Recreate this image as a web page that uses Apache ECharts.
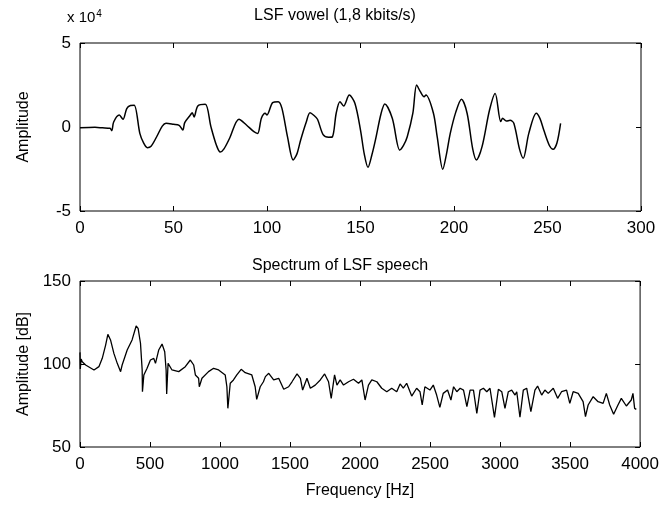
<!DOCTYPE html>
<html>
<head>
<meta charset="utf-8">
<script src="https://cdn.jsdelivr.net/npm/echarts@6/dist/echarts.min.js"></script>
<style>
  html, body { margin: 0; padding: 0; background: #fff; }
  #chart { width: 662px; height: 505px; }
</style>
</head>
<body>
<div id="chart"></div>
<script>
// top plot: LSF vowel, sample index vs amplitude (units of 10^4)
const vowelSample = [0, 8, 12, 16, 17, 18, 21, 23, 25, 27, 29, 32, 34, 36, 38, 41, 44, 46, 50, 53,
  55, 56, 59, 60, 61, 63, 67, 70, 73, 75, 77, 80, 85, 89, 93, 95, 97, 99, 100, 103,
  106, 108, 111, 114, 116, 118, 121, 123, 125, 127, 130, 133, 135, 137, 139, 141, 144, 147, 150, 152,
  154, 156, 158, 161, 163, 167, 171, 173, 175, 178, 180, 182, 184, 185, 189, 191, 194, 196, 198, 201,
  204, 207, 210, 212, 215, 219, 222, 225, 226, 228, 230, 232, 235, 237, 240, 244, 246, 248, 251, 253,
  255, 257]
const vowelAmp = [-0.05, -0.02, -0.05, -0.08, -0.22, 0.3, 0.71, 0.46, 1.1, 1.28, 1.3, -0.38, -0.95, -1.23, -1.15, -0.58, 0.05, 0.22, 0.16, 0.1,
  -0.18, 0.26, 0.71, 0.85, 0.6, 1.25, 1.35, 0.02, -1.1, -1.49, -1.3, -0.67, 0.46, 0.12, -0.28, -0.38, 0.52, 0.82, 0.72, 1.45,
  1.51, 1.11, -0.6, -1.96, -1.6, -0.77, 0.3, 0.85, 0.7, 0.46, -0.45, -0.61, -0.58, 0.82, 1.51, 1.25, 1.9, 1.41, -0.18, -1.6,
  -2.4, -1.7, -0.77, 0.8, 1.37, 0.52, -1.37, -1.1, -0.58, 0.82, 2.5, 2.1, 1.8, 1.9, 0.82, -0.58, -2.52, -1.6, -0.38, 0.9,
  1.65, 0.82, -1.3, -1.96, -1.17, 1.01, 2.0, 0.32, 0.52, 0.35, 0.4, 0.22, -1.3, -1.86, -0.38, 0.82, 0.5, -0.18, -1.1, -1.33,
  -0.97, 0.22]

// bottom plot: spectrum, frequency [Hz] vs amplitude [dB]
const specFreq = [0, 2, 8, 16, 40, 100, 135, 159, 183, 199, 218, 242, 266, 290, 301, 337, 372, 401, 415, 432,
  444, 446, 456, 479, 503, 527, 539, 562, 586, 605, 615, 619, 629, 657, 705, 752, 788, 812, 824, 847,
  852, 871, 918, 954, 990, 1037, 1049, 1056, 1073, 1096, 1120, 1151, 1180, 1227, 1251, 1262, 1287, 1310, 1324, 1348,
  1383, 1419, 1455, 1490, 1514, 1550, 1574, 1590, 1621, 1645, 1680, 1716, 1747, 1775, 1794, 1818, 1835, 1858, 1882, 1918,
  1953, 1989, 2013, 2036, 2060, 2084, 2120, 2155, 2191, 2226, 2262, 2286, 2309, 2333, 2369, 2404, 2428, 2444, 2463, 2499,
  2523, 2547, 2570, 2594, 2625, 2649, 2668, 2691, 2715, 2739, 2763, 2786, 2810, 2834, 2857, 2881, 2905, 2928, 2960, 2988,
  3012, 3035, 3059, 3083, 3107, 3119, 3142, 3166, 3190, 3220, 3249, 3268, 3297, 3320, 3344, 3380, 3411, 3439, 3475, 3498,
  3522, 3558, 3593, 3610, 3629, 3665, 3700, 3736, 3759, 3783, 3811, 3842, 3866, 3902, 3937, 3949, 3961, 3973]
const specDb = [107, 97, 103, 101.4, 99.4, 96.4, 98.4, 103.4, 111.4, 117.9, 114.5, 106.4, 100.4, 95.4, 99.4, 108.4, 114.5, 122.9, 121.5, 112.5,
  96.4, 83.3, 93.4, 97.4, 102.4, 103.4, 100.4, 108.4, 112, 107.4, 96.4, 81.9, 100.4, 96.4, 95.4, 98.4, 102.4, 99.4, 93.4, 91.4,
  86.3, 91.4, 95.4, 97.4, 96.4, 93.4, 86.3, 73.3, 88.4, 90.4, 93.4, 96.8, 94.8, 93.4, 86.3, 78.7, 86.3, 89.3, 92.4, 94.4,
  90.4, 91.4, 84.8, 86.3, 89.3, 94, 91.4, 84.3, 91.4, 85.4, 87.3, 90.4, 94, 89.3, 79.3, 93.4, 87.3, 90.4, 87.3, 89.3,
  90.8, 88.4, 90.4, 78.3, 87.3, 90.4, 89.3, 85.4, 83.3, 85.4, 83.3, 88, 85.4, 88.4, 80.7, 85.4, 83.3, 75.3, 86.3, 84.3,
  87.3, 81.3, 73.9, 82.3, 84.3, 78.3, 86.3, 83.3, 85.4, 84.3, 74.3, 84.3, 84.3, 70.3, 84.3, 85.4, 83.3, 85.4, 67.9, 84.8,
  83.3, 73.3, 83.3, 84.3, 81.3, 83.3, 67.9, 84.3, 85.4, 71.3, 84.3, 86.7, 81.3, 84.3, 82.3, 85.4, 79.3, 83.3, 84.3, 76.3,
  83.3, 82.3, 77.3, 68.3, 75.3, 80.3, 77.3, 76.3, 82.3, 75.3, 69.7, 75.3, 79.3, 74.7, 78.3, 82.3, 73.3, 72.7]

const labelFont = { color: '#000', fontSize: 17, fontFamily: 'Liberation Sans, sans-serif' }
const nameFont = { color: '#000', fontSize: 16, fontFamily: 'Liberation Sans, sans-serif' }

const chart = echarts.init(document.getElementById('chart'), null, { renderer: 'canvas' })

// MATLAB-like axis: box frame comes from grid border, ticks point inwards
const makeAxis = (gridIndex, min, max, interval, pos, withLabels, extra) => Object.assign({
  type: 'value', gridIndex, min, max, interval, position: pos,
  axisLine: { show: false, onZero: false },
  axisTick: { show: true, inside: true, length: 5, lineStyle: { color: '#000' } },
  axisLabel: withLabels
    ? Object.assign({ margin: 9, formatter: (v) => String(v) }, labelFont)
    : { show: false },
  splitLine: { show: false }
}, extra || {})

const pairs = (xs, ys) => xs.map((x, i) => [x, ys[i]])

chart.setOption({
  backgroundColor: '#fff',
  animation: false,
  title: [
    { text: 'LSF vowel (1,8 kbits/s)', left: 330, top: 3, textAlign: 'center',
      textStyle: Object.assign({ fontWeight: 'normal' }, nameFont) },
    { text: 'Spectrum of LSF speech', left: 335, top: 253, textAlign: 'center',
      textStyle: Object.assign({ fontWeight: 'normal' }, nameFont) },
    { text: 'x 10{s|4}', left: 62, top: 4,
      textStyle: { fontWeight: 'normal', color: '#000', fontSize: 15, fontFamily: 'Liberation Sans, sans-serif',
        rich: { s: { fontSize: 10, verticalAlign: 'top', padding: [0, 0, 8, 1], color: '#000' } } } }
  ],
  grid: [
    { left: 80, right: 21, top: 43, height: 168, show: true, borderColor: '#000', borderWidth: 1, backgroundColor: 'transparent' },
    { left: 80, right: 21, top: 281, height: 166, show: true, borderColor: '#000', borderWidth: 1, backgroundColor: 'transparent' }
  ],
  xAxis: [
    makeAxis(0, 0, 300, 50, 'bottom', true),
    makeAxis(0, 0, 300, 50, 'top', false),
    makeAxis(1, 0, 4000, 500, 'bottom', true, {
      name: 'Frequency [Hz]', nameLocation: 'middle', nameGap: 36, nameTextStyle: nameFont
    }),
    makeAxis(1, 0, 4000, 500, 'top', false)
  ],
  yAxis: [
    makeAxis(0, -5, 5, 5, 'left', true, {
      name: 'Amplitude', nameLocation: 'middle', nameGap: 48, nameRotate: 90, nameTextStyle: nameFont
    }),
    makeAxis(0, -5, 5, 5, 'right', false),
    makeAxis(1, 50, 150, 50, 'left', true, {
      name: 'Amplitude [dB]', nameLocation: 'middle', nameGap: 48, nameRotate: 90, nameTextStyle: nameFont
    }),
    makeAxis(1, 50, 150, 50, 'right', false)
  ],
  series: [
    {
      type: 'line', xAxisIndex: 0, yAxisIndex: 0,
      data: pairs(vowelSample, vowelAmp),
      smooth: 0.3, showSymbol: false,
      lineStyle: { color: '#000', width: 1.5 }
    },
    {
      type: 'line', xAxisIndex: 2, yAxisIndex: 2,
      data: pairs(specFreq, specDb),
      showSymbol: false,
      lineStyle: { color: '#000', width: 1.3 }
    }
  ]
})
</script>
</body>
</html>
